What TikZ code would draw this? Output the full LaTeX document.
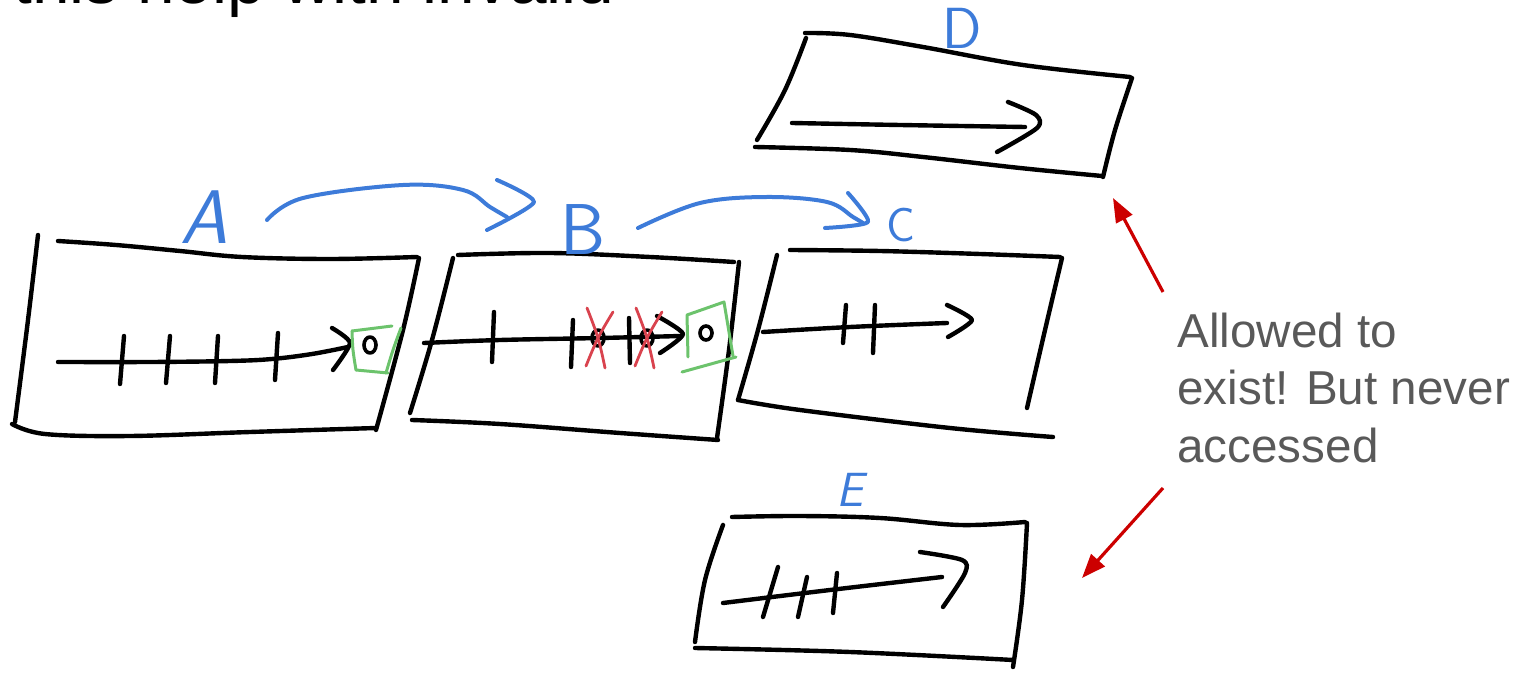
\documentclass[tikz,border=0pt]{standalone}
\usepackage{fontspec}
\setmainfont{Liberation Sans}
\usetikzlibrary{arrows.meta}
\definecolor{penblue}{HTML}{3D7BD9}
\definecolor{pengreen}{HTML}{6CC36C}
\definecolor{penred}{HTML}{D9434E}
\definecolor{notered}{HTML}{CC0000}
\definecolor{notegray}{HTML}{595959}
\begin{document}
\begin{tikzpicture}[x=0.5pt,y=-0.5pt,
  ink/.style={line width=2.2pt, line cap=round, line join=round},
  blueink/.style={ink, penblue, line width=2pt},
  greenink/.style={ink, pengreen, line width=1.5pt},
  redink/.style={ink, penred, line width=1.4pt},
  ringink/.style={ink, line width=1.8pt},
  hand/.style={smooth, tension=0.6},
  letter/.style={text=penblue, inner sep=0pt, font=\sffamily},
  pointer/.style={notered, line width=1.6pt, -{Triangle[length=12pt,width=9pt]}},
]
\useasboundingbox (0,0) rectangle (1514,673);
\clip (0,0) rectangle (1514,673);

% heading line, mostly above the page edge
\node[anchor=base west, inner sep=0pt, font=\fontsize{33.8pt}{40pt}\selectfont] (heading) at (13,4) {this help with invalid};

% ---------- block A ----------
\draw[ink] plot[hand] coordinates {(58,241) (116,245) (180,251) (242,257) (330,259) (417,257)};
\draw[ink] plot[hand] coordinates {(38,235) (28,320) (15,422)};
\draw[ink] plot[hand] coordinates {(12,424) (45,434) (130,436) (250,432) (376,428)};
\draw[ink] plot[hand] coordinates {(419,258) (403,330) (376,430)};
\draw[ink] plot[hand] coordinates {(58,362) (150,362) (230,361) (272,359) (312,354) (348,347)};
\draw[ink] plot[smooth, tension=0.4] coordinates {(332,328) (350,343) (333,370)};
\draw[ink] (124,336) -- (120,384);
\draw[ink] (170,336) -- (166,383);
\draw[ink] (218,336) -- (215,383);
\draw[ink] (278,333) -- (275,380);
\draw[ringink] (370,345) ellipse [x radius=6, y radius=8];
\draw[greenink] plot[hand] coordinates {(356,370) (353,350) (352,331)};
\draw[greenink] (352,331) -- (392,326);
\draw[greenink] plot[hand] coordinates {(401,328) (393,350) (386,373)};
\draw[greenink] (356,370) -- (388,373);

% ---------- block B ----------
\draw[ink] plot[hand] coordinates {(458,255) (550,253) (650,257) (734,262)};
\draw[ink] plot[hand] coordinates {(453,258) (432,340) (410,413)};
\draw[ink] plot[hand] coordinates {(412,420) (500,424) (620,433) (718,440)};
\draw[ink] plot[hand] coordinates {(739,262) (729,350) (717,438)};
\draw[ink] plot[hand] coordinates {(424,343) (500,340) (600,338) (681,336)};
\draw[ink] (494,312) -- (492,362);
\draw[ink] (573,320) -- (571,367);
\draw[ink] (629,318) -- (630,363);
\draw[ringink] (598,338) ellipse [x radius=6, y radius=8];
\draw[ringink] (647,338) ellipse [x radius=6, y radius=8];
\draw[ink] plot[smooth, tension=0.4] coordinates {(657,316) (683,334) (660,353)};
\draw[redink] plot[hand] coordinates {(587,308) (598,338) (605,368)};
\draw[redink] plot[hand] coordinates {(613,312) (598,338) (586,366)};
\draw[redink] plot[hand] coordinates {(636,308) (647,338) (654,368)};
\draw[redink] plot[hand] coordinates {(662,312) (647,338) (635,366)};
\draw[greenink] (688,357) -- (687,315) -- (724,302) -- (733,356);
\draw[greenink] (682,372) -- (736,357);
\draw[ringink] (706,333) ellipse [x radius=6, y radius=7];

% ---------- block C ----------
\draw[ink] plot[hand] coordinates {(790,250) (880,251) (980,254) (1060,257)};
\draw[ink] plot[hand] coordinates {(777,255) (758,330) (738,400)};
\draw[ink] plot[hand] coordinates {(738,400) (800,410) (950,428) (1053,437)};
\draw[ink] plot[hand] coordinates {(1062,258) (1045,330) (1027,408)};
\draw[ink] plot[hand] coordinates {(763,332) (850,327) (947,323)};
\draw[ink] plot[smooth, tension=0.4] coordinates {(947,305) (972,320) (948,337)};
\draw[ink] (846,305) -- (843,343);
\draw[ink] (875,305) -- (873,353);

% ---------- block D ----------
\draw[ink] plot[hand] coordinates {(805,33) (850,35) (923,47) (1023,65) (1130,77)};
\draw[ink] plot[hand] coordinates {(806,38) (785,90) (757,140)};
\draw[ink] plot[hand] coordinates {(755,147) (850,150) (923,157) (1020,168) (1102,176)};
\draw[ink] plot[hand] coordinates {(1132,78) (1115,130) (1103,177)};
\draw[ink] plot[hand] coordinates {(792,123) (900,125) (1025,127)};
\draw[ink] plot[smooth, tension=0.5] coordinates {(1008,102) (1036,115) (1037,128) (997,152)};

% ---------- block E ----------
\draw[ink] plot[hand] coordinates {(732,517) (800,516) (880,518) (960,525) (1025,522)};
\draw[ink] plot[hand] coordinates {(723,525) (705,580) (695,642)};
\draw[ink] plot[hand] coordinates {(695,648) (850,652) (1013,660)};
\draw[ink] plot[hand] coordinates {(1027,523) (1022,600) (1013,667)};
\draw[ink] plot[hand] coordinates {(723,603) (830,590) (942,577)};
\draw[ink] plot[smooth, tension=0.5] coordinates {(920,552) (962,560) (965,573) (943,607)};
\draw[ink] (778,567) -- (763,617);
\draw[ink] (807,577) -- (798,617);
\draw[ink] (837,573) -- (833,613);

% ---------- block labels and hops ----------
\node[letter, font=\sffamily\itshape\fontsize{38pt}{38pt}\selectfont] (lblA) at (204,217) {A};
\node[letter, font=\sffamily\fontsize{36pt}{36pt}\selectfont] (lblB) at (583,230) {B};
\node[letter, font=\sffamily\fontsize{24pt}{24pt}\selectfont] (lblC) at (901,225) {C};
\node[letter, font=\sffamily\fontsize{29pt}{29pt}\selectfont] (lblD) at (962,28) {D};
\node[letter, font=\sffamily\itshape\fontsize{24pt}{24pt}\selectfont] (lblE) at (850,490) {E};

\draw[blueink] plot[hand] coordinates {(267,220) (303,198) (403,185) (463,190) (490,207) (507,217)};
\draw[blueink] plot[smooth, tension=0.4] coordinates {(497,180) (534,202) (487,230)};
\draw[blueink] plot[hand] coordinates {(638,228) (700,203) (767,197) (827,202) (853,217) (863,223)};
\draw[blueink] plot[smooth, tension=0.4] coordinates {(848,193) (868,222) (825,228)};

% ---------- note with pointers ----------
\node[anchor=base west, align=left, text=notegray, inner sep=0pt,
      font=\fontsize{23.8pt}{28.7pt}\selectfont] (note) at (1177,462)
      {Allowed to\\exist! But never\\accessed};
\coordinate (upTail) at (1163,292);
\coordinate (upTip) at (1113,198);
\coordinate (downTail) at (1163,488);
\coordinate (downTip) at (1082,578);
\draw[pointer] (upTail) -- (upTip);
\draw[pointer] (downTail) -- (downTip);
\end{tikzpicture}
\end{document}
